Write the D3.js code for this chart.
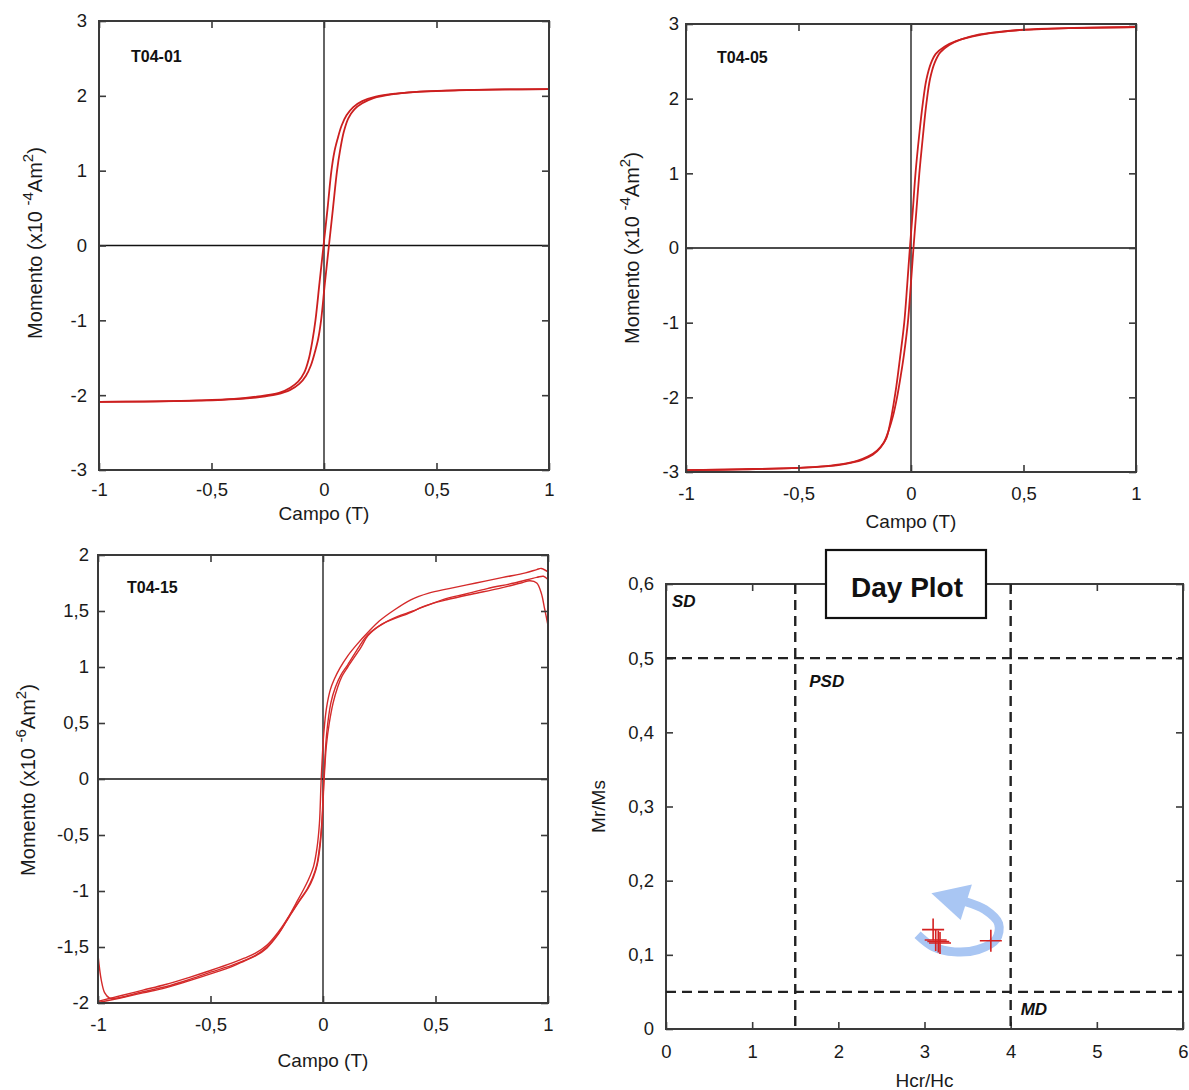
<!DOCTYPE html>
<html lang="pt">
<head>
<meta charset="utf-8">
<title>Ciclos de histerese e Day Plot</title>
<script src="https://d3js.org/d3.v7.min.js"></script>
<style>
  body { margin: 0; background: #fff; }
  svg { display: block; }
</style>
</head>
<body>
<div id="chart"></div>
<script>
// ---------- dados ----------
const campoTicks = [-1, -0.5, 0, 0.5, 1];
const momentoTicks3 = [-3, -2, -1, 0, 1, 2, 3];
const momentoTicks2 = [-2, -1.5, -1, -0.5, 0, 0.5, 1, 1.5, 2];

// T04-01  [campo (T), momento (x10^-4 Am2)]
const t0401Subida = [[-1,-2.09],[-0.8,-2.085],[-0.6,-2.075],[-0.45,-2.063],[-0.33,-2.04],[-0.26,-2.015],[-0.21,-1.99],[-0.15,-1.93],[-0.11,-1.85],[-0.08,-1.74],[-0.058,-1.6],[-0.04,-1.42],[-0.026,-1.25],[-0.013,-1.0],[0.004,-0.5],[0.022,0],[0.04,0.5],[0.058,1.0],[0.072,1.28],[0.088,1.52],[0.108,1.7],[0.135,1.82],[0.17,1.9],[0.22,1.97],[0.3,2.02],[0.4,2.05],[0.55,2.07],[0.75,2.083],[1,2.09]];
const t0401Descida = [[-1,-2.09],[-0.75,-2.083],[-0.55,-2.07],[-0.4,-2.05],[-0.3,-2.02],[-0.2,-1.97],[-0.15,-1.9],[-0.115,-1.82],[-0.088,-1.7],[-0.068,-1.52],[-0.052,-1.28],[-0.038,-1.0],[-0.02,-0.5],[-0.002,0],[0.016,0.5],[0.033,1.0],[0.046,1.25],[0.06,1.42],[0.078,1.6],[0.1,1.74],[0.13,1.85],[0.17,1.93],[0.23,1.99],[0.32,2.03],[0.45,2.06],[0.6,2.075],[0.8,2.085],[1,2.09]];

// T04-05  [campo (T), momento (x10^-4 Am2)]
const t0405Subida = [[-1,-2.975],[-0.75,-2.965],[-0.5,-2.945],[-0.38,-2.92],[-0.3,-2.89],[-0.24,-2.85],[-0.19,-2.79],[-0.15,-2.71],[-0.12,-2.6],[-0.1,-2.45],[-0.08,-2.25],[-0.062,-2.0],[-0.045,-1.7],[-0.03,-1.4],[-0.014,-1.0],[-0.001,-0.5],[0.011,0],[0.024,0.5],[0.037,1.0],[0.053,1.5],[0.069,1.95],[0.085,2.27],[0.105,2.48],[0.13,2.62],[0.17,2.72],[0.22,2.79],[0.29,2.85],[0.38,2.89],[0.5,2.925],[0.7,2.945],[1,2.96]];
const t0405Descida = [[-1,-2.975],[-0.7,-2.96],[-0.5,-2.945],[-0.38,-2.925],[-0.29,-2.89],[-0.22,-2.84],[-0.17,-2.77],[-0.135,-2.67],[-0.11,-2.55],[-0.093,-2.35],[-0.078,-2.1],[-0.065,-1.85],[-0.05,-1.5],[-0.03,-1.0],[-0.017,-0.5],[-0.005,0],[0.008,0.5],[0.02,1.0],[0.036,1.5],[0.053,1.95],[0.068,2.25],[0.088,2.47],[0.11,2.6],[0.15,2.7],[0.2,2.77],[0.27,2.83],[0.36,2.88],[0.5,2.92],[0.7,2.945],[1,2.96]];

// T04-15  [campo (T), momento (x10^-6 Am2)]
const t0415Ramo1 = [[-1,-1.985],[-0.95,-1.96],[-0.9,-1.935],[-0.8,-1.885],[-0.7,-1.835],[-0.6,-1.775],[-0.5,-1.71],[-0.4,-1.64],[-0.35,-1.6],[-0.3,-1.555],[-0.25,-1.485],[-0.2,-1.37],[-0.15,-1.22],[-0.12,-1.11],[-0.09,-1.0],[-0.065,-0.9],[-0.042,-0.78],[-0.027,-0.62],[-0.016,-0.4],[-0.008,0],[0.004,0.42],[0.016,0.64],[0.033,0.8],[0.05,0.89],[0.075,0.99],[0.11,1.1],[0.15,1.2],[0.2,1.31],[0.25,1.41],[0.31,1.5],[0.39,1.6],[0.47,1.66],[0.56,1.7],[0.68,1.75],[0.8,1.8],[0.9,1.84],[0.95,1.87],[0.97,1.88],[1,1.85]];
const t0415Ramo2 = [[-1,-1.995],[-0.96,-1.98],[-0.9,-1.955],[-0.8,-1.91],[-0.7,-1.865],[-0.6,-1.805],[-0.5,-1.74],[-0.4,-1.67],[-0.35,-1.625],[-0.3,-1.58],[-0.25,-1.51],[-0.2,-1.39],[-0.15,-1.23],[-0.105,-1.09],[-0.067,-0.98],[-0.043,-0.88],[-0.025,-0.76],[-0.013,-0.6],[-0.004,-0.38],[0.005,0],[0.015,0.3],[0.028,0.5],[0.045,0.68],[0.065,0.82],[0.085,0.92],[0.11,1.0],[0.17,1.18],[0.2,1.28],[0.26,1.38],[0.33,1.45],[0.4,1.5],[0.53,1.6],[0.63,1.65],[0.73,1.7],[0.85,1.75],[0.95,1.8],[0.98,1.81],[1,1.78]];
const t0415Ramo3 = [[-1,-1.57],[-0.985,-1.8],[-0.97,-1.91],[-0.95,-1.955],[-0.93,-1.96],[-0.9,-1.95],[-0.8,-1.9],[-0.7,-1.855],[-0.6,-1.795],[-0.5,-1.725],[-0.4,-1.66],[-0.3,-1.575],[-0.25,-1.5],[-0.2,-1.385],[-0.15,-1.225],[-0.1,-1.07],[-0.07,-0.98],[-0.046,-0.88],[-0.028,-0.77],[-0.015,-0.6],[-0.005,-0.38],[0.004,0],[0.016,0.4],[0.035,0.68],[0.055,0.82],[0.08,0.93],[0.11,1.02],[0.16,1.18],[0.2,1.29],[0.27,1.39],[0.38,1.48],[0.46,1.55],[0.55,1.6],[0.66,1.65],[0.78,1.7],[0.88,1.75],[0.92,1.77],[0.95,1.75],[0.97,1.66],[0.985,1.52],[1,1.37]];

// Day plot
const dayXTicks = [0, 1, 2, 3, 4, 5, 6];
const dayYTicks = [0, 0.1, 0.2, 0.3, 0.4, 0.5, 0.6];
const hcrHc = [3.10, 3.13, 3.16, 3.18, 3.77];
const mrMs = [0.134, 0.120, 0.118, 0.116, 0.119];
const limitesHcrHc = [1.5, 4];
const limitesMrMs = [0.05, 0.5];
const setaTrajeto = [[2.92,0.127],[3.1,0.111],[3.35,0.104],[3.62,0.107],[3.83,0.121],[3.86,0.142],[3.7,0.161],[3.47,0.172]];
const setaPonta = [[3.08,0.183],[3.55,0.195],[3.42,0.147]];

// ---------- desenho ----------
const FONT = '"Liberation Sans", Arial, Helvetica, sans-serif';
const fmt = d => String(d).replace(".", ",");

const svg = d3.select("#chart").append("svg")
    .attr("width", 1189)
    .attr("height", 1090)
    .style("font-family", FONT);

function eixos(g, x, y, box, o) {
    const t = 7;
    g.append("g").attr("transform", `translate(0,${box.y1})`)
        .call(d3.axisBottom(x).tickValues(o.xTicks).tickSize(-t).tickPadding(o.padX).tickFormat(fmt));
    g.append("g").attr("transform", `translate(0,${box.y0})`)
        .call(d3.axisTop(x).tickValues(o.xTicks).tickSize(-t).tickFormat(""));
    g.append("g").attr("transform", `translate(${box.x0},0)`)
        .call(d3.axisLeft(y).tickValues(o.yTicks).tickSize(-t).tickPadding(o.padY).tickFormat(fmt));
    g.append("g").attr("transform", `translate(${box.x1},0)`)
        .call(d3.axisRight(y).tickValues(o.yTicks).tickSize(-t).tickFormat(""));
    g.selectAll(".domain").remove();
    g.selectAll(".tick line").attr("stroke", "#3a3a3a").attr("stroke-width", 1.6);
    g.selectAll(".tick text").attr("fill", "#1a1a1a")
        .style("font-size", "18.5px").style("font-family", FONT);
}

function moldura(g, box) {
    g.append("rect")
        .attr("x", box.x0).attr("y", box.y0)
        .attr("width", box.x1 - box.x0).attr("height", box.y1 - box.y0)
        .attr("fill", "none").attr("stroke", "#3a3a3a").attr("stroke-width", 2);
}

function tituloMomento(g, cx, cy, expoente) {
    const t = g.append("text")
        .attr("transform", `translate(${cx},${cy}) rotate(-90)`)
        .attr("text-anchor", "middle").attr("fill", "#1a1a1a")
        .style("font-size", "20px");
    t.append("tspan").text("Momento (x10 ");
    t.append("tspan").attr("dy", -9).style("font-size", "15px").text(expoente);
    t.append("tspan").attr("dy", 9).text("Am");
    t.append("tspan").attr("dy", -9).style("font-size", "15px").text("2");
    t.append("tspan").attr("dy", 9).text(")");
}

function painel(cfg) {
    const box = cfg.box;
    const x = d3.scaleLinear().domain([-1, 1]).range([box.x0, box.x1]);
    const y = d3.scaleLinear().domain(cfg.yDomain).range([box.y1, box.y0]);
    const g = svg.append("g");

    g.append("line").attr("x1", x(0)).attr("x2", x(0)).attr("y1", box.y0).attr("y2", box.y1)
        .attr("stroke", "#111").attr("stroke-width", 1.3);
    g.append("line").attr("x1", box.x0).attr("x2", box.x1).attr("y1", y(0)).attr("y2", y(0))
        .attr("stroke", "#111").attr("stroke-width", 1.3);

    const linha = d3.line().x(d => x(d[0])).y(d => y(d[1])).curve(d3.curveCatmullRom.alpha(0.5));
    cfg.curvas.forEach(c => {
        g.append("path").attr("d", linha(c))
            .attr("fill", "none").attr("stroke", cfg.cor).attr("stroke-width", cfg.espessura)
            .attr("stroke-linejoin", "round");
    });

    eixos(g, x, y, box, { xTicks: campoTicks, yTicks: cfg.yTicks, padX: cfg.padX, padY: cfg.padY });
    moldura(g, box);

    g.append("text").attr("x", cfg.rotulo.x).attr("y", cfg.rotulo.y)
        .attr("fill", "#111").style("font-size", "16px").style("font-weight", "bold")
        .text(cfg.nome);
    g.append("text").attr("x", x(0)).attr("y", cfg.campoY)
        .attr("text-anchor", "middle").attr("fill", "#1a1a1a").style("font-size", "19px")
        .text("Campo (T)");
    tituloMomento(g, cfg.momento.x, cfg.momento.y, cfg.expoente);
}

painel({
    nome: "T04-01", box: { x0: 99, x1: 549, y0: 21, y1: 470 },
    yDomain: [-3, 3], yTicks: momentoTicks3, curvas: [t0401Descida, t0401Subida],
    cor: "#cc1f1f", espessura: 1.8, padX: 13, padY: 12,
    rotulo: { x: 131, y: 62 }, campoY: 520, momento: { x: 42, y: 243 }, expoente: "-4"
});
painel({
    nome: "T04-05", box: { x0: 686, x1: 1136, y0: 24, y1: 472 },
    yDomain: [-3, 3], yTicks: momentoTicks3, curvas: [t0405Descida, t0405Subida],
    cor: "#cc1f1f", espessura: 1.8, padX: 15, padY: 7,
    rotulo: { x: 717, y: 63 }, campoY: 528, momento: { x: 639, y: 248 }, expoente: "-4"
});
painel({
    nome: "T04-15", box: { x0: 98, x1: 548, y0: 555, y1: 1003 },
    yDomain: [-2, 2], yTicks: momentoTicks2, curvas: [t0415Ramo1, t0415Ramo2, t0415Ramo3],
    cor: "#d42a2a", espessura: 1.4, padX: 15, padY: 9,
    rotulo: { x: 127, y: 593 }, campoY: 1067, momento: { x: 35, y: 780 }, expoente: "-6"
});

// ---------- Day plot ----------
(function () {
    const box = { x0: 666, x1: 1183, y0: 584, y1: 1029 };
    const x = d3.scaleLinear().domain([0, 6]).range([box.x0, box.x1]);
    const y = d3.scaleLinear().domain([0, 0.6]).range([box.y1, box.y0]);
    const g = svg.append("g");

    eixos(g, x, y, box, { xTicks: dayXTicks, yTicks: dayYTicks, padX: 16, padY: 12 });
    moldura(g, box);

    const tracejado = "10,6";
    g.selectAll("line.vlim").data(limitesHcrHc).enter().append("line")
        .attr("x1", d => x(d)).attr("x2", d => x(d)).attr("y1", box.y0).attr("y2", box.y1)
        .attr("stroke", "#222").attr("stroke-width", 2.4).attr("stroke-dasharray", tracejado);
    g.selectAll("line.hlim").data(limitesMrMs).enter().append("line")
        .attr("x1", box.x0).attr("x2", box.x1).attr("y1", d => y(d)).attr("y2", d => y(d))
        .attr("stroke", "#222").attr("stroke-width", 2.4).attr("stroke-dasharray", tracejado);

    const zona = (txt, px, py) => g.append("text").attr("x", px).attr("y", py)
        .attr("fill", "#111").style("font-size", "17px").style("font-weight", "bold")
        .style("font-style", "italic").text(txt);
    zona("SD", x(0) + 6, y(0.6) + 23);
    zona("PSD", x(limitesHcrHc[0]) + 14, y(limitesMrMs[1]) + 29);
    zona("MD", x(limitesHcrHc[1]) + 10, y(limitesMrMs[0]) + 23);

    // seta azul
    const linhaSeta = d3.line().x(d => x(d[0])).y(d => y(d[1])).curve(d3.curveCatmullRom);
    g.append("path").attr("d", linhaSeta(setaTrajeto))
        .attr("fill", "none").attr("stroke", "#a9c6f3").attr("stroke-width", 9);
    g.append("path").attr("d", d3.line().x(d => x(d[0])).y(d => y(d[1]))(setaPonta) + "Z")
        .attr("fill", "#a9c6f3");

    // pontos
    const pts = hcrHc.map((v, i) => [v, mrMs[i]]);
    g.selectAll("path.pt").data(pts).enter().append("path")
        .attr("transform", d => `translate(${x(d[0])},${y(d[1])})`)
        .attr("d", "M-11,0H11M0,-11V11")
        .attr("stroke", "#d42020").attr("stroke-width", 1.6).attr("fill", "none");

    // titulo
    g.append("rect").attr("x", 826).attr("y", 550).attr("width", 160).attr("height", 68)
        .attr("fill", "#fff").attr("stroke", "#111").attr("stroke-width", 2.2);
    g.append("text").attr("x", 907).attr("y", 597).attr("text-anchor", "middle")
        .attr("fill", "#111").style("font-size", "28px").style("font-weight", "bold")
        .text("Day Plot");

    g.append("text").attr("x", (box.x0 + box.x1) / 2).attr("y", 1087)
        .attr("text-anchor", "middle").attr("fill", "#1a1a1a").style("font-size", "19px")
        .text("Hcr/Hc");
    g.append("text").attr("transform", `translate(605,${(box.y0 + box.y1) / 2}) rotate(-90)`)
        .attr("text-anchor", "middle").attr("fill", "#1a1a1a").style("font-size", "19px")
        .text("Mr/Ms");
})();
</script>
</body>
</html>
